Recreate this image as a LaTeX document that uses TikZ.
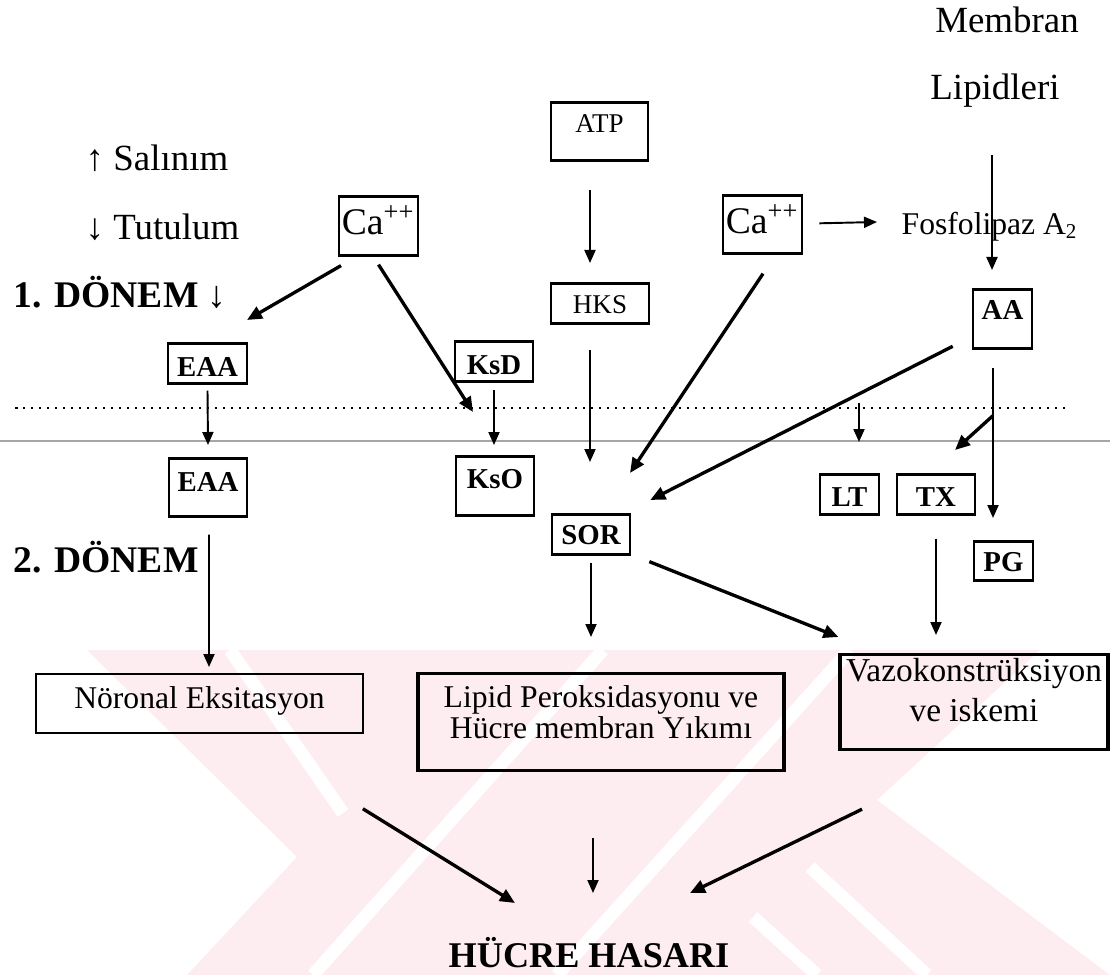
\documentclass[tikz,border=0pt]{standalone}
\usepackage{fontspec}
\setmainfont{Liberation Serif}
\usetikzlibrary{arrows.meta}

\definecolor{filigran}{RGB}{253,237,240}

\newcommand{\normalyazi}{\fontsize{10.5}{12}\selectfont}
\newcommand{\kutuyazi}{\fontsize{7.7}{9}\selectfont}
\newcommand{\kalinyazi}{\fontsize{8.2}{9}\selectfont\bfseries}
\newcommand{\iyonyazi}{\fontsize{10.7}{12}\selectfont}
\newcommand{\sonucyazi}{\fontsize{9}{8.8}\selectfont}
\newcommand{\donemyazi}{\fontsize{10.7}{12}\selectfont\bfseries}

\tikzset{
  kutu/.style={draw, line width=0.75pt, anchor=north, inner sep=0pt},
  yazi/.style={inner sep=0pt, font=\normalyazi},
  ince/.style={line width=0.55pt, -{Triangle[length=1.3mm,width=1.1mm]}},
  kalin/.style={line width=0.95pt, -{Triangle[length=1.5mm,width=1.3mm]}}
}

\begin{document}
\begin{tikzpicture}[x=0.1mm,y=-0.1mm]
\useasboundingbox (0,0) rectangle (1110,975);

\begin{scope}
\clip (0,650) rectangle (1110,975);
\fill[filigran] (87,650) -- (1040,650) -- (877,800) -- (1110,975) -- (187,975) -- (297,857) -- cycle;
\draw[white,line width=1.3mm] (230,650) -- (343,813);
\draw[white,line width=1.3mm] (313,975) -- (603,650);
\draw[white,line width=1.3mm] (557,975) -- (850,650);
\draw[white,line width=1.3mm] (753,917) -- (817,975);
\draw[white,line width=1.3mm] (810,867) -- (927,975);
\end{scope}

\draw[line width=0.5pt,dash pattern=on 0.25mm off 0.55mm] (15,408) -- (1068,408);
\draw[gray!70,line width=0.3pt] (0,441) -- (1110,441);

\node[yazi,anchor=base] (membran) at (1007,33) {Membran};
\node[yazi,anchor=base] (lipidleri) at (995,100) {Lipidleri};
\node[yazi,anchor=base west] (salinim) at (85,171) {↑ Salınım};
\node[yazi,anchor=base west] (tutulum) at (85,240) {↓ Tutulum};
\node[yazi,anchor=base west,font=\donemyazi] (donem1) at (13,307) {1. DÖNEM ↓};
\node[yazi,anchor=base west,font=\donemyazi] (donem2) at (13,572) {2. DÖNEM};
\node[yazi,anchor=base west,font=\sonucyazi] (fosfo) at (901,235) {Fosfolipaz A\textsubscript{2}};
\node[yazi,anchor=base,font=\fontsize{10.3}{12}\selectfont\bfseries] (hucre) at (589,967) {HÜCRE HASARI};

\node[kutu,minimum width=7.9mm,text height=3.8mm,text depth=2.1mm,font=\iyonyazi] (caL) at (378.5,195) {Ca\textsuperscript{++}};
\node[kutu,minimum width=7.9mm,text height=3.8mm,text depth=2mm,font=\iyonyazi] (caR) at (762.5,194) {Ca\textsuperscript{++}};
\node[kutu,minimum width=9.7mm,text height=3mm,text depth=2.8mm,font=\kutuyazi] (atp) at (599.5,101) {ATP};
\node[kutu,minimum width=9.8mm,text height=3mm,text depth=1mm,font=\kutuyazi] (hks) at (600,282) {HKS};
\node[kutu,minimum width=5.9mm,text height=3mm,text depth=2.9mm,font=\kalinyazi] (aa) at (1002.5,288) {AA};
\node[kutu,minimum width=7.9mm,text height=3.3mm,text depth=0.7mm,font=\kalinyazi] (eaa1) at (207.5,342) {EAA};
\node[kutu,minimum width=7.8mm,text height=3.3mm,text depth=0.7mm,font=\kalinyazi] (ksd) at (494,340) {KsD};
\node[kutu,minimum width=7.8mm,text height=3.3mm,text depth=2.5mm,font=\kalinyazi] (eaa2) at (208,457) {EAA};
\node[kutu,minimum width=7.8mm,text height=3.2mm,text depth=2.7mm,font=\kalinyazi] (kso) at (495,455) {KsO};
\node[kutu,minimum width=7.8mm,text height=3mm,text depth=1mm,font=\kalinyazi] (sor) at (591,513) {SOR};
\node[kutu,minimum width=5.9mm,text height=3.2mm,text depth=0.8mm,font=\kalinyazi] (lt) at (849.5,473) {LT};
\node[kutu,minimum width=7.8mm,text height=3.2mm,text depth=0.8mm,font=\kalinyazi] (tx) at (936,473) {TX};
\node[kutu,minimum width=5.9mm,text height=3mm,text depth=0.9mm,font=\kalinyazi] (pg) at (1003.5,540) {PG};
\node[kutu,line width=0.5pt,minimum width=32.7mm,text height=3.5mm,text depth=2.4mm,font=\sonucyazi] (noronal) at (199.5,673) {Nöronal Eksitasyon};
\node[kutu,line width=0.9pt,minimum width=36.6mm,align=center,font=\sonucyazi] (lipid) at (601,672) {\rule{0pt}{3.4mm}Lipid Peroksidasyonu ve\\Hücre membran Yıkımı\rule[-3.2mm]{0pt}{0pt}};
\node[kutu,line width=0.9pt,minimum width=26.8mm,align=center,font=\fontsize{9.5}{11.4}\selectfont] (vazo) at (974,653) {\rule{0pt}{2.7mm}Vazokonstrüksiyon\\ve iskemi\rule[-2.8mm]{0pt}{0pt}};

\draw[kalin] ([shift={(-37.5,9)}]caL.south) -- ([shift={(39.5,-22)}]eaa1.north);
\draw[kalin] ([shift={(0,8)}]caL.south) -- ([shift={(-22,-43)}]kso.north);
\draw[ince] ([shift={(-9.5,28)}]atp.south) -- ([shift={(-10,-19)}]hks.north);
\draw[ince] ([shift={(-10,25)}]hks.south) -- ([shift={(-1,-51)}]sor.north);
\draw[ince] ([shift={(0,7)}]ksd.south) -- ([shift={(-1,-10)}]kso.north);
\draw[ince] ([shift={(0,6)}]eaa1.south) -- ([shift={(0,-12)}]eaa2.north);
\draw[ince] ([shift={(1,17)}]eaa2.south) -- ([shift={(9.5,-6)}]noronal.north);
\draw[ince] ([shift={(16,-1)}]caR.east) -- ([shift={(-24,-13)}]fosfo.base west);
\draw[ince] ([shift={(-3,55)}]lipidleri.base) -- ([shift={(-10.5,-18)}]aa.north);
\draw[kalin] ([shift={(0.5,19)}]caR.south) -- ([shift={(39,-40)}]sor.north);
\draw[kalin] ([shift={(-19,27.5)}]aa.west) -- ([shift={(19,-13)}]sor.north east);
\draw[ince] ([shift={(-9.5,18)}]aa.south) -- ([shift={(-10.5,-22)}]pg.north);
\draw[kalin] ([shift={(-9.5,66)}]aa.south) -- ([shift={(19,-23)}]tx.north);
\draw[ince] ([shift={(9.5,-70)}]lt.north) -- ([shift={(9.5,-31)}]lt.north);
\draw[ince] ([shift={(0,7)}]sor.south) -- ([shift={(-10,-35)}]lipid.north);
\draw[kalin] ([shift={(18,6)}]sor.south east) -- ([shift={(0,-16)}]vazo.north west);
\draw[ince] ([shift={(0,23)}]tx.south) -- ([shift={(-38,-18)}]vazo.north);
\draw[kalin] ([shift={(-1,75)}]noronal.south east) -- ([shift={(-74,-64)}]hucre.base);
\draw[ince] ([shift={(-8,66)}]lipid.south) -- ([shift={(4,-74)}]hucre.base);
\draw[kalin] ([shift={(-112,58)}]vazo.south) -- ([shift={(101,-74)}]hucre.base);
\end{tikzpicture}
\end{document}
